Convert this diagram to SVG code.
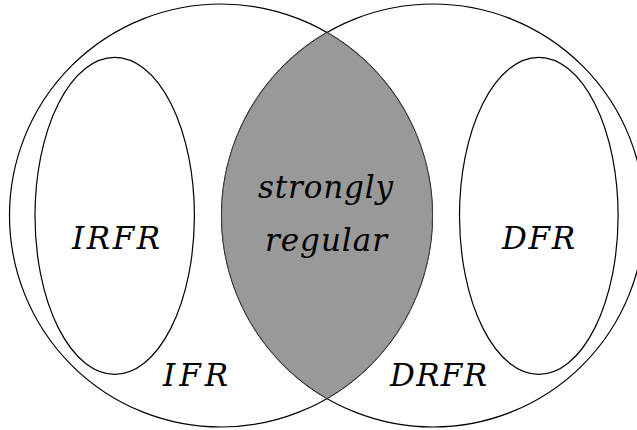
<svg xmlns="http://www.w3.org/2000/svg" width="637" height="430" viewBox="0 0 637 430">
<style>
.set{fill:none;stroke:#000;stroke-width:1.2}
.lbl{font-family:'DejaVu Serif',serif;font-style:italic;font-size:31px;fill:#000}
</style>
<rect width="637" height="430" fill="#fff"/>
<g id="IFR"><circle class="set" cx="221" cy="215.5" r="211.5"/></g>
<g id="DRFR"><circle class="set" cx="433" cy="215.5" r="211.5"/></g>
<g id="strongly-regular"><path d="M327,32.5 A211.5,211.5 0 0 1 327,398.5 A211.5,211.5 0 0 1 327,32.5 Z" fill="#999" stroke="#444" stroke-width="0.7"/>
<text class="lbl" x="258" y="198" textLength="135" lengthAdjust="spacing">strongly</text>
<text class="lbl" x="265" y="251" textLength="122" lengthAdjust="spacing">regular</text></g>
<g id="IRFR"><ellipse class="set" cx="114.7" cy="215.8" rx="79.7" ry="158.5"/>
<text class="lbl" x="72" y="249" textLength="88" lengthAdjust="spacing">IRFR</text></g>
<g id="DFR"><ellipse class="set" cx="538.8" cy="215.8" rx="79.3" ry="158.5"/>
<text class="lbl" x="502" y="248.5" textLength="73" lengthAdjust="spacing">DFR</text></g>
<text class="lbl" x="163" y="385.7" textLength="65" lengthAdjust="spacing">IFR</text>
<text class="lbl" x="390" y="385.7" textLength="97" lengthAdjust="spacing">DRFR</text>
<g id="connectors"/>
</svg>
